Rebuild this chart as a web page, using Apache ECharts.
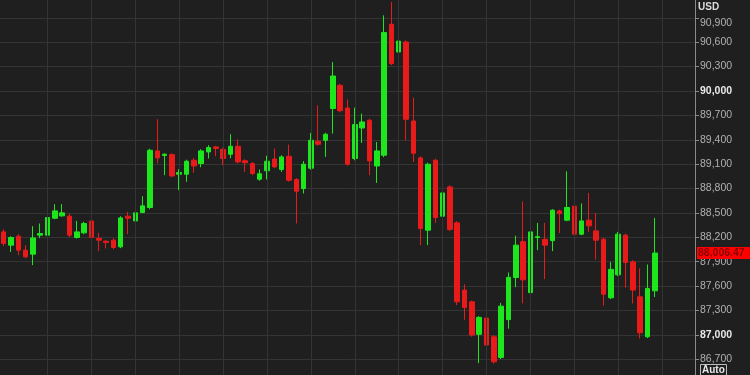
<!DOCTYPE html>
<html>
<head>
<meta charset="utf-8">
<script src="https://cdn.jsdelivr.net/npm/echarts@6/dist/echarts.min.js"></script>
<style>
html,body{margin:0;padding:0;background:#1f1f1f;}
#chart{width:750px;height:375px;}
</style>
</head>
<body>
<div id="chart"></div>
<script>
// ---- data ----
const opens = [88267,88104,88214,88042,87993,88227,88227,88435,88464,88460,
88198,88255,88402,88186,88153,88165,88083,88460,88402,88506,
88567,89263,89206,89218,88976,88976,89148,89108,89250,89312,
89280,89222,89320,89142,89108,88915,89019,89163,89035,89197,
88911,88800,89050,89382,89394,89784,90070,89791,89169,89545,
89640,89078,89210,90820,90479,90602,89631,89177,88288,89148,
88460,88820,88378,87551,87407,87007,87207,86977,86723,87188,
87706,88147,87520,88198,88175,88159,88525,88411,88583,88239,
88411,88279,88177,87456,87739,88227,87898,87468,86977,87542];
const closes = [88125,88198,88042,87960,88193,88247,88444,88525,88501,88227,
88267,88370,88198,88165,88137,88075,88439,88435,88501,88587,
89271,89177,89222,88955,88997,89136,89078,89263,89304,89292,
89169,89320,89127,89118,88985,88982,89136,89066,89189,88902,
88767,89099,89394,89345,89468,90184,89757,89099,89587,89619,
89140,89263,90718,90337,90614,89652,89234,88309,89099,88444,
88746,88297,87407,87336,86998,87216,86875,86669,87354,87708,
88104,87677,88267,88208,88104,88534,88491,88567,88239,88402,
88341,88165,87501,87806,88239,87891,87551,87026,87571,88006.47];
const highs = [88300,88214,88239,88104,88337,88370,88472,88608,88608,88493,
88402,88392,88460,88255,88165,88190,88460,88513,88587,88706,
89290,89652,89234,89234,89038,89155,89177,89284,89333,89326,
89302,89468,89403,89161,89124,89034,89204,89292,89210,89341,
88927,89138,89484,89824,89486,90356,90089,89894,89796,89722,
89658,89373,90930,91094,90787,90623,89919,89197,89118,89166,
88886,88841,88399,87622,87422,87231,87565,86998,87394,87768,
88220,88641,88501,88378,88378,88546,88540,89013,88911,88616,
88746,88501,88196,87898,88267,88245,87919,87817,87866,88439];
const lows = [88091,88021,87981,87944,87858,88190,88144,88423,88454,88202,
88184,88239,88177,88030,88063,88054,88067,88239,88386,88497,
88546,89111,88964,88939,88780,88882,88992,89062,89169,89197,
89087,89173,89111,89004,88964,88896,88912,89050,89004,88884,
88370,88739,89032,89326,89189,89476,89738,89081,89148,89361,
88964,88869,89185,90316,90234,89394,89127,88104,88104,88378,
88220,88276,87366,87186,86979,86653,86834,86647,86703,87077,
87587,87387,87501,88042,87686,88030,88251,88399,88227,88227,
88267,87928,87360,87440,87723,87581,87387,86957,86961,87465];
const emptySlots = 5;               // blank periods to the right of the last candle
const categories = [];
for (let i = 0; i < opens.length + emptySlots; i++) categories.push(String(i + 1));
const gridLineCats = [7,13,19,25,31,37,43,49,55,61,67,73,79,85,91].map(String);
const yMin = 86400, yMax = 91200, yStep = 300;
const lastPrice = 88006.47;
const lastPriceText = '88,006.47';
const currency = 'USD';

// ---- build ----
const candleData = opens.map((o, i) => [o, closes[i], lows[i], highs[i]]);
for (let i = 0; i < emptySlots; i++) candleData.push('-');
const fmt = v => Math.round(v).toLocaleString('en-US');
const GREEN = '#1de61d', RED = '#e81a1a';
const FONT = 'Liberation Sans, Arial, sans-serif';

const chart = echarts.init(document.getElementById('chart'));
chart.setOption({
  backgroundColor: '#1f1f1f',
  animation: false,
  grid: { left: 0, right: 55, top: -6.6, bottom: -8.7, containLabel: false, outerBoundsMode: 'none' },
  xAxis: {
    type: 'category', data: categories, boundaryGap: true,
    axisLine: { show: false }, axisTick: { show: false },
    axisLabel: { show: false }, splitLine: { show: false }
  },
  yAxis: {
    type: 'value', position: 'right',
    min: yMin, max: yMax, interval: yStep,
    axisLine: { show: true, lineStyle: { color: '#8a8a8a', width: 1 } },
    axisTick: { show: true, length: 4, lineStyle: { color: '#8a8a8a' } },
    splitLine: { show: true, lineStyle: { color: '#343434', width: 1 } },
    axisLabel: {
      margin: 5, color: '#b0b0b0', fontSize: 10.5, fontFamily: FONT,
      showMinLabel: false, showMaxLabel: false,
      formatter: v => {
        if (v === yMin || v === yMax) return '';
        const s = fmt(v);
        if (v === 90000 || v === 87000) return '{b|' + s + '}';
        if (v === 90900) return '{t|' + s + '}';
        return s;
      },
      rich: {
        b: { fontWeight: 'bold', color: '#e8e8e8', fontSize: 10.5, fontFamily: FONT },
        t: { padding: [10, 0, 0, 0], color: '#b0b0b0', fontSize: 10.5, fontFamily: FONT }
      }
    }
  },
  series: [
    {
      type: 'line', data: [], z: 1, silent: true,
      markLine: {
        silent: true, symbol: 'none', animation: false,
        label: { show: false },
        lineStyle: { color: '#343434', width: 1, type: 'solid' },
        data: gridLineCats.map(c => ({ xAxis: c }))
      }
    },
    {
      type: 'candlestick', z: 3, data: candleData, barWidth: 5,
      itemStyle: { color: GREEN, color0: RED, borderColor: GREEN, borderColor0: RED, borderWidth: 1 }
    }
  ]
});

// last-price tag positioned through the y axis scale
const py = chart.convertToPixel({ yAxisIndex: 0 }, lastPrice);
chart.setOption({
  graphic: [
    { type: 'text', left: 698, top: 2, z: 100, style: { text: currency, fill: '#dcdcdc', font: 'bold 10px ' + FONT } },
    { type: 'rect', left: 700, top: 364, z: 100, shape: { width: 26, height: 12 }, style: { fill: '#1f1f1f', stroke: '#bdbdbd', lineWidth: 1 } },
    { type: 'text', left: 702, top: 365, z: 101, style: { text: 'Auto', fill: '#e6e6e6', font: 'bold 10px ' + FONT } },
    { type: 'rect', left: 697, top: py - 6, z: 100, shape: { width: 53, height: 12 }, style: { fill: '#ff0000' } },
    { type: 'text', left: 698, top: py - 5.5, z: 101, style: { text: lastPriceText, fill: '#8a0000', font: 'bold 10.5px ' + FONT } }
  ]
});
</script>
</body>
</html>
